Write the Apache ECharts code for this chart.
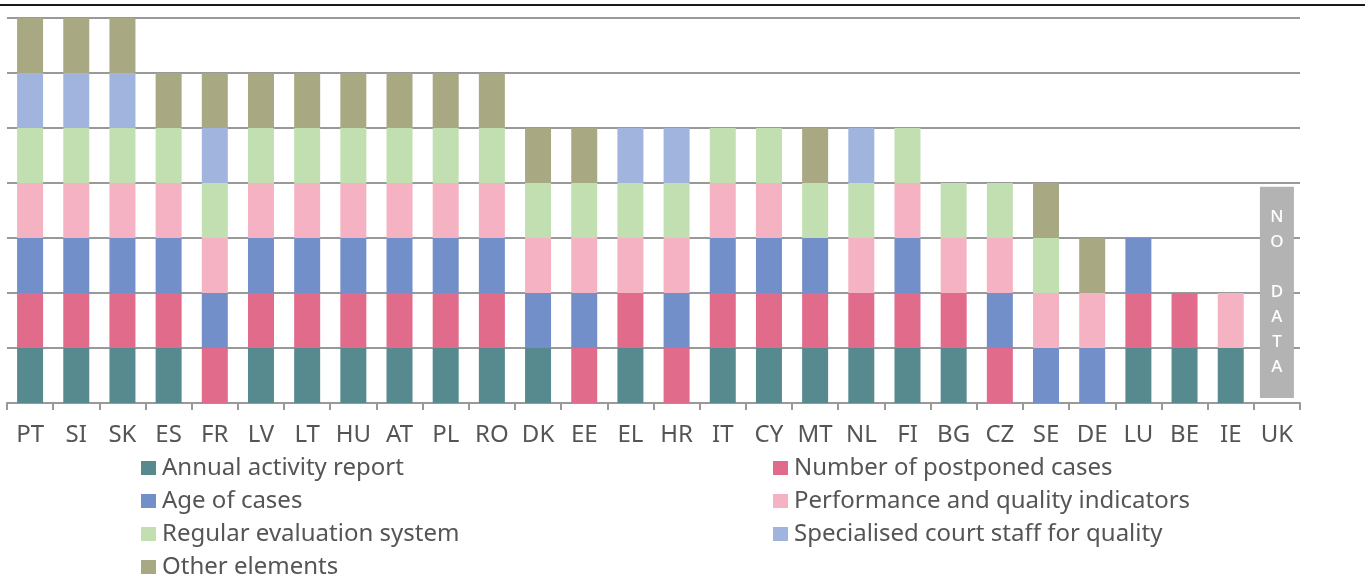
<!DOCTYPE html>
<html>
<head>
<meta charset="utf-8">
<script src="https://cdn.jsdelivr.net/npm/echarts@6/dist/echarts.min.js"></script>
<style>
  html, body { margin: 0; padding: 0; background: #fff; }
  #chart { width: 1370px; height: 576px; }
</style>
</head>
<body>
<div id="chart"></div>
<script>
// Member states, in display order
const countries = ['PT','SI','SK','ES','FR','LV','LT','HU','AT','PL','RO','DK','EE','EL','HR','IT','CY','MT','NL','FI','BG','CZ','SE','DE','LU','BE','IE','UK'];

// 1 = element present in the court's quality framework, 0 = absent ('-' = no data)
const annualReport   = [1,1,1,1,0,1,1,1,1,1,1,1,0,1,0,1,1,1,1,1,1,0,0,0,1,1,1,'-'];
const postponedCases = [1,1,1,1,1,1,1,1,1,1,1,0,1,1,1,1,1,1,1,1,1,1,0,0,1,1,0,'-'];
const ageOfCases     = [1,1,1,1,1,1,1,1,1,1,1,1,1,0,1,1,1,1,0,1,0,1,1,1,1,0,0,'-'];
const performanceInd = [1,1,1,1,1,1,1,1,1,1,1,1,1,1,1,1,1,0,1,1,1,1,1,1,0,0,1,'-'];
const regularEval    = [1,1,1,1,1,1,1,1,1,1,1,1,1,1,1,1,1,1,1,1,1,1,1,0,0,0,0,'-'];
const specialStaff   = [1,1,1,0,1,0,0,0,0,0,0,0,0,1,1,0,0,0,1,0,0,0,0,0,0,0,0,'-'];
const otherElements  = [1,1,1,1,1,1,1,1,1,1,1,1,1,0,0,0,0,1,0,0,0,0,1,1,0,0,0,'-'];

// Country without data: [category, from, to]
const noData = [['UK', 0.09, 3.93]];

const seriesNames = [
  'Annual activity report',
  'Number of postponed cases',
  'Age of cases',
  'Performance and quality indicators',
  'Regular evaluation system',
  'Specialised court staff for quality',
  'Other elements'
];
const seriesData = [annualReport, postponedCases, ageOfCases, performanceInd, regularEval, specialStaff, otherElements];
const seriesColors = ['#578a8f', '#e06b8b', '#728fc9', '#f5b2c3', '#c2dfb2', '#a0b4de', '#a8a982'];

const FONT = 'Noto Sans';
const chart = echarts.init(document.getElementById('chart'), null, { renderer: 'canvas' });

const barSeries = seriesNames.map((name, i) => ({
  name: name,
  type: 'bar',
  stack: 'total',
  barWidth: 26,
  data: seriesData[i],
  itemStyle: { color: seriesColors[i] },
  emphasis: { disabled: true }
}));

barSeries.push({
  name: 'no data',
  type: 'custom',
  data: noData,
  encode: { x: 0, y: [1, 2] },
  renderItem: function (params, api) {
    const x = api.coord([api.value(0), 0])[0];
    const yBottom = api.coord([api.value(0), api.value(1)])[1];
    const yTop = api.coord([api.value(0), api.value(2)])[1];
    const w = 34;
    return {
      type: 'group',
      children: [
        {
          type: 'rect',
          shape: { x: x - w / 2, y: yTop, width: w, height: yBottom - yTop },
          style: { fill: '#b3b3b3' }
        },
        {
          type: 'text',
          x: x,
          y: (yTop + yBottom) / 2,
          style: {
            text: 'N\nO\n\nD\nA\nT\nA',
            fill: '#ffffff',
            font: '500 17px "' + FONT + '"',
            lineHeight: 25,
            align: 'center',
            verticalAlign: 'middle'
          }
        }
      ]
    };
  }
});

// Legend: two columns, one legend component per entry so each row sits exactly
const legendColumns = [
  { left: 141, names: [seriesNames[0], seriesNames[2], seriesNames[4], seriesNames[6]] },
  { left: 773, names: [seriesNames[1], seriesNames[3], seriesNames[5]] }
];
const legends = [];
legendColumns.forEach(col => {
  col.names.forEach((name, row) => {
    legends.push({
      data: [name],
      left: col.left,
      top: 456 + row * 33,
      padding: 0,
      itemWidth: 15,
      itemHeight: 14,
      icon: 'rect',
      selectedMode: false,
      textStyle: { fontFamily: FONT, fontSize: 24, color: '#555555', padding: [0, 0, 0, 1] }
    });
  });
});

chart.setOption({
  animation: false,
  grid: { left: 7, right: 70, top: 18, bottom: 173, containLabel: false },
  xAxis: {
    type: 'category',
    data: countries,
    axisLine: { lineStyle: { color: '#999999', width: 2 } },
    axisTick: { show: true, length: 7, lineStyle: { color: '#999999', width: 2 } },
    axisLabel: { fontFamily: FONT, fontSize: 24, color: '#555555', margin: 20 }
  },
  yAxis: {
    type: 'value',
    min: 0,
    max: 7,
    interval: 1,
    axisLabel: { show: false },
    axisLine: { show: false },
    axisTick: { show: false },
    splitLine: { lineStyle: { color: '#999999', width: 2 } }
  },
  legend: legends,
  graphic: [
    {
      type: 'line',
      shape: { x1: 0, y1: 5, x2: 1365, y2: 5 },
      style: { stroke: '#1a1a1a', lineWidth: 2 }
    }
  ],
  series: barSeries
});
</script>
</body>
</html>
